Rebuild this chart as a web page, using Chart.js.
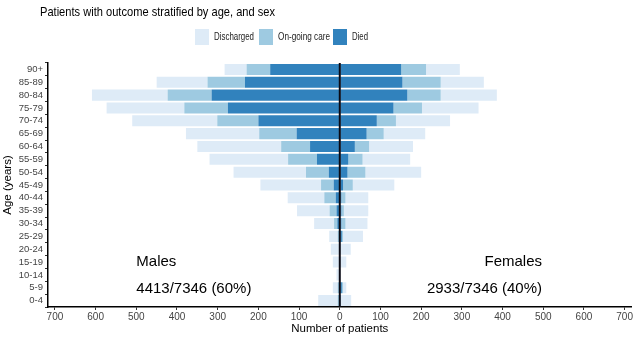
<!DOCTYPE html>
<html>
<head>
<meta charset="utf-8">
<script src="https://cdn.jsdelivr.net/npm/chart.js@4.4.1/dist/chart.umd.min.js"></script>
<style>
  html, body { margin: 0; padding: 0; background: #fff; }
  #wrap { width: 634px; height: 340px; }
</style>
</head>
<body>
<div id="wrap"><canvas id="chart" width="634" height="340"></canvas></div>
<script>
// age groups, youngest first
const ageGroups = ["0-4","5-9","10-14","15-19","20-24","25-29","30-34","35-39","40-44","45-49",
  "50-54","55-59","60-64","65-69","70-74","75-79","80-84","85-89","90+"];

// males (counts, drawn to the left)
const maleDied       = [2,2,0,0,0,2,6,8,10,15,27,56,73,106,200,275,315,233,171];
const maleOngoing    = [3,3,1,1,2,3,8,17,28,31,56,71,71,92,101,107,108,92,58];
const maleDischarged = [48,12,7,16,20,21,49,80,90,149,178,193,206,180,209,191,186,125,54];

// females (counts, drawn to the right)
const femaleDied       = [1,5,0,0,0,5,4,4,4,8,19,21,37,66,91,132,166,154,151];
const femaleOngoing    = [2,3,0,1,2,3,10,6,10,24,44,35,35,42,47,70,82,94,61];
const femaleDischarged = [25,8,2,15,25,49,54,60,56,102,137,117,108,102,133,139,138,106,83];

const xTicks = [-700,-600,-500,-400,-300,-200,-100,0,100,200,300,400,500,600,700];

const outcomes = ["Discharged", "On-going care", "Died"];
const colors = {"Discharged": "#deebf7", "On-going care": "#9ecae1", "Died": "#3182bd"};

const chartTitle = "Patients with outcome stratified by age, and sex";
const sexLabels = ["Males", "Females"];
const sexCounts = ["4413/7346 (60%)", "2933/7346 (40%)"];

const FONT = "'Liberation Sans', Arial, sans-serif";
const neg = arr => arr.map(v => -v);

function ds(label, data, sex) {
  return {
    label: label, sex: sex, data: data,
    backgroundColor: colors[label],
    borderWidth: 0,
    stack: "all",
    barPercentage: 0.86,
    categoryPercentage: 1.0
  };
}

// title, legend, zero line and text labels
const extras = {
  id: "extras",
  afterDatasetsDraw(chart) {
    const {ctx, chartArea, scales} = chart;
    const x = scales.x, y = scales.y;
    ctx.save();
    // zero line
    ctx.strokeStyle = "#0a0a14";
    ctx.lineWidth = 2;
    ctx.beginPath();
    ctx.moveTo(x.getPixelForValue(0), chartArea.top);
    ctx.lineTo(x.getPixelForValue(0), chartArea.bottom);
    ctx.stroke();

    // sex labels
    ctx.fillStyle = "#000";
    ctx.font = "15px " + FONT;
    ctx.textBaseline = "middle";
    ctx.textAlign = "left";
    ctx.fillText(sexLabels[0], x.getPixelForValue(-500), y.getPixelForValue("15-19"));
    ctx.fillText(sexCounts[0], x.getPixelForValue(-500), y.getPixelForValue("5-9") + 1);
    ctx.textAlign = "right";
    ctx.fillText(sexLabels[1], x.getPixelForValue(497), y.getPixelForValue("15-19"));
    ctx.fillText(sexCounts[1], x.getPixelForValue(497), y.getPixelForValue("5-9") + 1);
    ctx.restore();
  },
  afterDraw(chart) {
    const ctx = chart.ctx;
    ctx.save();
    ctx.fillStyle = "#000";
    ctx.textBaseline = "middle";
    ctx.textAlign = "left";
    ctx.font = "13.5px " + FONT;
    ctx.fillText(chartTitle, 40, 12, 235);

    // legend
    const boxW = 14, boxH = 16, top = 29;
    const starts = [195, 259, 333];
    const widths = [40, 52, 16];
    ctx.font = "11px " + FONT;
    outcomes.forEach((o, i) => {
      ctx.fillStyle = colors[o];
      ctx.fillRect(starts[i], top, boxW, boxH);
      ctx.fillStyle = "#222";
      ctx.fillText(o, starts[i] + boxW + 5, top + boxH / 2, widths[i]);
    });
    ctx.restore();
  }
};

new Chart(document.getElementById("chart"), {
  type: "bar",
  data: {
    labels: ageGroups,
    datasets: [
      ds("Died", neg(maleDied), "m"),
      ds("On-going care", neg(maleOngoing), "m"),
      ds("Discharged", neg(maleDischarged), "m"),
      ds("Died", femaleDied, "f"),
      ds("On-going care", femaleOngoing, "f"),
      ds("Discharged", femaleDischarged, "f")
    ]
  },
  options: {
    indexAxis: "y",
    responsive: false,
    animation: false,
    layout: { padding: { top: 63, right: 2, left: 0, bottom: 0 } },
    plugins: {
      legend: { display: false },
      title: { display: false },
      tooltip: { enabled: false }
    },
    scales: {
      x: {
        stacked: true,
        min: -717,
        max: 717,
        afterBuildTicks: axis => { axis.ticks = xTicks.map(v => ({value: v})); },
        afterFit: axis => { axis.height = 33; },
        grid: { drawOnChartArea: false, drawTicks: true, tickLength: 3, color: "#333" },
        border: { display: true, color: "#000", width: 1.5 },
        ticks: {
          color: "#444",
          font: { size: 10, family: FONT },
          padding: 1,
          maxRotation: 0,
          autoSkip: false,
          callback: v => Math.abs(v)
        },
        title: {
          display: true, text: "Number of patients", color: "#000",
          font: { size: 11.5, family: FONT },
          padding: { top: 0, bottom: 4 }
        }
      },
      y: {
        stacked: true,
        reverse: true,
        afterFit: axis => { axis.width = 48; },
        grid: { drawOnChartArea: false, drawTicks: true, tickLength: 3, color: "#333" },
        border: { display: true, color: "#000", width: 1.5 },
        ticks: {
          color: "#444",
          font: { size: 9.5, family: FONT },
          padding: 2,
          autoSkip: false
        },
        title: {
          display: true, text: "Age (years)", color: "#000",
          font: { size: 11.5, family: FONT },
          padding: { top: 1, bottom: 2 }
        }
      }
    }
  },
  plugins: [extras]
});
</script>
</body>
</html>
